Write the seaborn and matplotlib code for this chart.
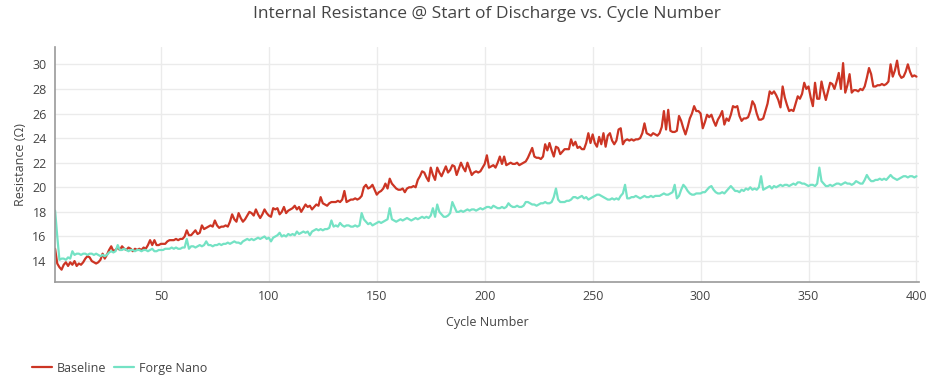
import matplotlib
matplotlib.use("Agg")
import matplotlib.pyplot as plt
import seaborn as sns
import numpy as np
import pandas as pd

# Internal resistance (ohm) per cycle
baseline = [
    15.0, 13.8, 13.5, 13.3, 13.7, 13.9, 13.6, 13.9, 13.7, 14.0,
    13.6, 13.8, 13.7, 13.9, 14.2, 14.4, 14.3, 14.0, 13.9, 13.8,
    13.9, 14.1, 14.6, 14.2, 14.5, 14.9, 15.2, 14.8, 14.9, 15.1,
    14.9, 15.2, 15.0, 14.9, 15.1, 15.0, 14.8, 15.0, 14.9, 15.0,
    14.9, 15.1, 15.0, 15.3, 15.7, 15.3, 15.7, 15.3, 15.3, 15.4,
    15.4, 15.4, 15.6, 15.7, 15.7, 15.7, 15.8, 15.7, 15.8, 15.8,
    16.0, 16.5, 16.1, 16.1, 16.3, 16.5, 16.2, 16.3, 16.9, 16.6,
    16.7, 16.8, 16.9, 16.8, 17.3, 16.9, 16.7, 16.8, 16.8, 16.9,
    16.8, 17.2, 17.8, 17.4, 17.2, 17.9, 17.5, 17.2, 17.4, 17.7,
    18.0, 17.9, 17.7, 18.2, 17.8, 17.5, 17.8, 18.2, 17.9, 17.7,
    17.6, 18.3, 18.2, 18.3, 17.8, 18.0, 18.4, 17.9, 18.1, 18.2,
    18.3, 18.5, 18.2, 18.4, 18.0, 18.3, 18.6, 18.4, 18.5, 18.2,
    18.4, 18.6, 18.5, 19.2, 18.7, 18.6, 18.5, 18.7, 18.8, 18.8,
    18.8, 18.9, 18.8, 19.0, 19.7, 18.8, 18.9, 19.0, 19.0, 19.1,
    19.0, 19.1, 19.3, 20.0, 20.2, 19.9, 20.0, 20.2, 19.8, 19.4,
    19.6, 19.7, 19.9, 20.3, 19.9, 20.7, 20.3, 20.1, 19.9, 19.8,
    19.8, 19.9, 19.6, 19.9, 20.0, 20.0, 20.1, 20.0, 20.6, 20.9,
    21.3, 21.2, 20.8, 20.5, 21.6, 21.0, 20.6, 21.6, 21.2, 20.9,
    21.3, 21.7, 21.2, 21.4, 21.8, 21.7, 21.0, 21.5, 22.0, 21.6,
    21.3, 22.0, 21.5, 21.0, 21.2, 21.3, 21.2, 21.3, 21.6, 21.9,
    22.6, 21.6, 21.7, 21.8, 21.6, 22.0, 22.5, 21.9, 22.5, 21.8,
    21.9, 22.0, 21.9, 21.9, 22.0, 21.8, 21.9, 22.0, 22.1, 22.4,
    22.8, 23.2, 22.5, 22.4, 22.4, 22.3, 22.5, 23.5, 23.0, 23.6,
    23.0, 22.5, 23.3, 23.2, 22.7, 22.9, 23.1, 23.1, 23.1, 23.9,
    23.4, 23.7, 23.2, 23.3, 23.1, 23.1, 23.6, 24.4, 23.6, 24.3,
    23.6, 23.3, 24.1, 23.5, 24.4, 23.3, 24.2, 24.4, 23.8, 23.5,
    23.8, 24.7, 24.8, 23.5, 23.8, 23.9, 23.8, 23.9, 23.8, 23.9,
    23.9, 24.0, 24.4, 25.2, 24.4, 24.3, 24.2, 24.4, 24.3, 24.2,
    24.4, 24.9, 26.2, 24.7, 26.3, 24.6, 24.5, 24.5, 24.6, 25.8,
    25.4, 24.8, 24.3, 24.9, 25.6, 26.0, 26.6, 26.2, 26.2, 26.0,
    24.8, 25.3, 25.9, 25.7, 25.9, 25.4, 25.0, 25.5, 25.8, 26.2,
    25.1, 25.6, 25.4, 25.9, 26.6, 26.5, 26.6, 25.8, 25.4, 25.6,
    25.6, 25.7, 26.2, 27.0, 26.7, 26.0, 25.5, 25.5, 25.6, 26.2,
    26.8, 27.8, 27.6, 27.8, 27.5, 27.1, 26.5, 28.2, 27.3, 26.7,
    26.2, 26.3, 26.2, 26.8, 27.4, 27.2, 27.6, 28.5, 28.0, 28.2,
    27.3, 26.6, 28.5, 27.2, 27.2, 28.6, 27.8, 27.1, 27.8, 28.5,
    28.4, 28.0, 28.6, 29.3, 28.0, 30.1, 27.7, 28.3, 29.2, 27.7,
    27.9, 27.9, 27.8, 28.0, 27.9, 28.2, 28.9, 29.7, 29.2, 28.2,
    28.2, 28.3, 28.3, 28.4, 28.3, 28.4, 28.6, 30.0, 29.0, 29.5,
    30.3, 29.2, 28.9, 29.0, 29.4, 30.0, 29.4, 29.0, 29.1, 29.0,
]

forge_nano = [
    18.1, 16.0, 14.1, 14.2, 14.2, 14.1, 14.3, 14.2, 14.8, 14.5,
    14.6, 14.6, 14.5, 14.6, 14.6, 14.5, 14.6, 14.6, 14.5, 14.6,
    14.5, 14.4, 14.5, 14.4, 14.5, 14.7, 14.8, 14.7, 14.8, 15.3,
    14.9, 14.9, 15.0, 14.9, 14.8, 14.9, 14.9, 14.8, 14.9, 14.9,
    14.8, 14.9, 14.9, 14.8, 14.9, 15.0, 14.8, 14.8, 14.9, 14.9,
    14.9, 15.0, 15.0, 15.0, 15.1, 15.0, 15.1, 15.0, 15.0, 15.1,
    15.1, 15.8, 15.0, 15.2, 15.2, 15.1, 15.2, 15.3, 15.2, 15.3,
    15.6, 15.3, 15.3, 15.2, 15.3, 15.3, 15.4, 15.3, 15.4, 15.4,
    15.5, 15.4, 15.5, 15.6, 15.5, 15.5, 15.4, 15.6, 15.7, 15.8,
    15.7, 15.8, 15.7, 15.8, 15.9, 15.8, 15.9, 16.0, 15.8, 15.9,
    15.6, 15.9, 16.0, 16.1, 16.3, 16.0, 16.1, 16.0, 16.2, 16.1,
    16.2, 16.1, 16.4, 16.2, 16.3, 16.4, 16.3, 16.4, 16.1, 16.4,
    16.5, 16.6, 16.5, 16.6, 16.5, 16.6, 16.6, 16.7, 17.3, 16.8,
    16.9, 16.8, 17.1, 16.9, 16.8, 16.9, 16.9, 16.8, 16.8, 16.9,
    16.8, 16.9, 17.9, 17.4, 17.2, 17.0, 17.1, 16.9, 17.0, 17.1,
    17.2, 17.1, 17.2, 17.3, 17.4, 18.3, 17.4, 17.3, 17.2, 17.3,
    17.4, 17.3, 17.4, 17.5, 17.4, 17.3, 17.4, 17.5, 17.4, 17.5,
    17.6, 17.5, 17.6, 17.5, 17.7, 18.3, 17.6, 18.6, 18.0, 17.8,
    17.6, 17.6, 17.7, 17.9, 18.8, 18.4, 18.0, 18.0, 18.1, 18.0,
    18.1, 18.2, 18.1, 18.2, 18.2, 18.1, 18.2, 18.3, 18.2, 18.3,
    18.4, 18.4, 18.3, 18.5, 18.4, 18.3, 18.3, 18.4, 18.3, 18.4,
    18.7, 18.5, 18.4, 18.4, 18.5, 18.4, 18.4, 18.5, 18.8, 18.8,
    18.7, 18.6, 18.6, 18.5, 18.6, 18.7, 18.7, 18.8, 18.7, 18.7,
    18.8, 19.2, 19.9, 19.0, 18.8, 18.8, 18.8, 18.9, 18.9, 19.0,
    19.2, 19.2, 19.1, 19.2, 19.3, 19.1, 19.2, 19.0, 19.1, 19.2,
    19.3, 19.4, 19.4, 19.3, 19.2, 19.1, 19.0, 19.0, 19.1, 19.0,
    19.1, 19.0, 19.3, 19.5, 20.2, 19.1, 19.1, 19.2, 19.2, 19.3,
    19.2, 19.1, 19.2, 19.3, 19.2, 19.2, 19.3, 19.2, 19.3, 19.3,
    19.3, 19.4, 19.5, 19.4, 19.4, 19.5, 19.6, 20.2, 19.1, 19.3,
    19.8, 20.2, 20.0, 19.7, 19.5, 19.4, 19.4, 19.5, 19.5, 19.5,
    19.6, 19.6, 19.8, 20.0, 20.1, 19.8, 19.6, 19.5, 19.5, 19.6,
    19.5, 19.7, 19.9, 20.1, 19.9, 19.7, 19.7, 19.6, 19.8, 19.7,
    19.9, 19.8, 20.0, 19.8, 19.9, 19.8, 20.0, 20.9, 19.8, 19.9,
    20.0, 20.1, 19.9, 20.1, 20.0, 20.1, 20.2, 20.1, 20.2, 20.2,
    20.1, 20.2, 20.3, 20.2, 20.4, 20.4, 20.3, 20.3, 20.2, 20.1,
    20.2, 20.2, 20.1, 20.3, 21.6, 20.5, 20.3, 20.1, 20.1, 20.2,
    20.1, 20.2, 20.3, 20.3, 20.2, 20.3, 20.4, 20.3, 20.3, 20.2,
    20.3, 20.5, 20.4, 20.3, 20.3, 20.6, 21.0, 20.7, 20.5, 20.5,
    20.6, 20.6, 20.7, 20.6, 20.7, 20.6, 20.8, 21.0, 20.8, 20.7,
    20.6, 20.7, 20.8, 20.9, 20.9, 20.8, 20.9, 20.9, 20.8, 20.9,
]

cycles = np.arange(1, len(baseline) + 1)
series_names = ["Baseline", "Forge Nano"]
colors = {"Baseline": "#cc3524", "Forge Nano": "#74e2c4"}
y_ticks = [14, 16, 18, 20, 22, 24, 26, 28, 30]
x_ticks = [50, 100, 150, 200, 250, 300, 350, 400]

df = pd.concat([
    pd.DataFrame({"Cycle": cycles, "Resistance": baseline, "Series": "Baseline"}),
    pd.DataFrame({"Cycle": cycles, "Resistance": forge_nano, "Series": "Forge Nano"}),
])

sns.set_style("white")
plt.rcParams["font.family"] = ["Open Sans", "DejaVu Sans"]

fig = plt.figure(figsize=(9.5, 3.8), dpi=100)
ax = fig.add_axes([0.058, 0.258, 0.909, 0.618])

sns.lineplot(
    data=df,
    x="Cycle",
    y="Resistance",
    hue="Series",
    hue_order=series_names,
    palette=colors,
    linewidth=1.6,
    ax=ax,
)

ax.set_xlim(1, 401)
ax.set_ylim(12.3, 31.4)
ax.set_xticks(x_ticks)
ax.set_yticks(y_ticks)
ax.grid(True, color="#ebebeb", linewidth=1)
ax.set_axisbelow(True)
ax.tick_params(axis="both", length=0, labelsize=9, colors="#444444", pad=6)

for side in ["top", "right"]:
    ax.spines[side].set_visible(False)
for side in ["left", "bottom"]:
    ax.spines[side].set_color("#9a9a9a")
    ax.spines[side].set_linewidth(1.2)

ax.set_xlabel("Cycle Number", fontsize=9, color="#444444", labelpad=9)
ax.set_ylabel("Resistance (Ω)", fontsize=9, color="#444444", labelpad=4)

fig.suptitle("Internal Resistance @ Start of Discharge vs. Cycle Number",
             x=0.513, y=0.985, fontsize=12.5, color="#444444")

handles, labels = ax.get_legend_handles_labels()
ax.legend_.remove()
fig.legend(handles, labels, loc="lower left", bbox_to_anchor=(0.022, -0.016),
           ncol=2, frameon=False, fontsize=9, handlelength=1.6,
           handletextpad=0.4, columnspacing=0.6, labelcolor="#444444")

plt.savefig("out.png", dpi=100)
